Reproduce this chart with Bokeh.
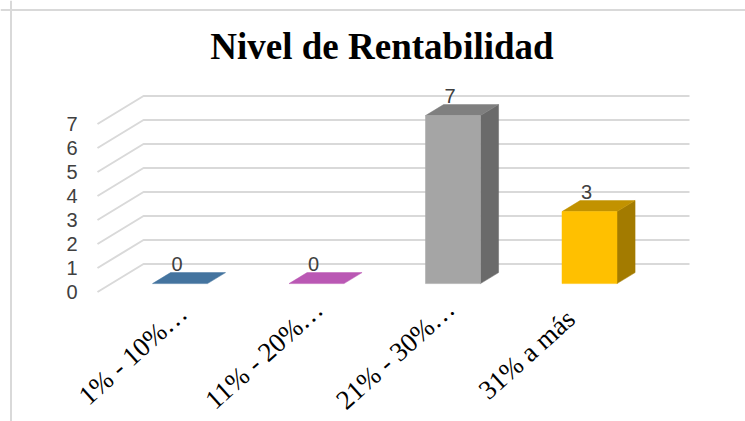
import math
from bokeh.plotting import figure
from bokeh.models import Range1d, Span
from bokeh.embed import file_html
from bokeh.resources import INLINE
from bokeh.core.properties import value

# ---------------- data ----------------
title_text = "Nivel de Rentabilidad"
categories = ["1% - 10%…", "11% - 20%…", "21% - 30%…", "31% a más"]
counts = [0, 0, 7, 3]
y_ticks = [0, 1, 2, 3, 4, 5, 6, 7]
front_colors = ["#4A7AA6", "#BF5DB8", "#A5A5A5", "#FFC000"]
top_colors = ["#44749F", "#BA58B4", "#7F7F7F", "#C29200"]
side_colors = ["#345A7D", "#8E4389", "#6A6A6A", "#A37B00"]

# ---------------- layout (canvas pixels) ----------------
W, H = 745, 421
PX_X = 136.5          # px per category step
PX_Y = 24.0           # px per value unit
X0 = 165.7            # canvas x of category 0 (floor front)
Y0 = 291.5            # canvas y of value 0 (floor front)


def xd(cx):
    return (cx - X0) / PX_X


def yd(cy):
    return (Y0 - cy) / PX_Y


DX = 46 / PX_X        # depth of floor in x units
DY = 28 / PX_Y        # depth of floor in y units
TF, TB = 0.30, 0.693  # bar front / back depth fraction
BW = 55 / PX_X        # bar width
WALL_X = xd(97)
END_X = xd(689)
LAB_STEP = 131.3 / PX_X

p = figure(width=W, height=H, x_range=Range1d(xd(0), xd(W)),
           y_range=Range1d(yd(H), yd(0)),
           output_backend="svg", toolbar_location=None, min_border=0,
           x_axis_location=None, y_axis_location=None)
p.grid.visible = False
p.outline_line_color = None
p.background_fill_color = "white"
p.border_fill_color = "white"

# chart border (top / left)
p.add_layout(Span(location=yd(9.5), dimension="width", line_color="#D9D9D9", line_width=2))
p.add_layout(Span(location=xd(10.5), dimension="height", line_color="#D9D9D9", line_width=2))

# gridlines: left wall diagonal + back wall horizontal
gx = [[WALL_X, WALL_X + DX, END_X] for v in y_ticks]
gy = [[v, v + DY, v + DY] for v in y_ticks]
p.multi_line(gx, gy, line_color="#D9D9D9", line_width=2)

# y tick labels
p.text(x=[WALL_X] * len(y_ticks), y=y_ticks, text=[str(v) for v in y_ticks],
       text_align="right", text_baseline="middle", x_offset=-20,
       text_font=value("Liberation Sans"), text_font_size="20px", text_color="#404040")

# 3D bars
xs, ys, cols = [], [], []
for i, h in enumerate(counts):
    l, r = i - BW / 2, i + BW / 2
    fx, fy = TF * DX, TF * DY
    bx, by = TB * DX, TB * DY
    if h > 0:
        xs.append([r + fx, r + bx, r + bx, r + fx])
        ys.append([fy, by, h + by, h + fy])
        cols.append(side_colors[i])
    xs.append([l + fx, r + fx, r + bx, l + bx])
    ys.append([h + fy, h + fy, h + by, h + by])
    cols.append(top_colors[i])
    if h > 0:
        xs.append([l + fx, r + fx, r + fx, l + fx])
        ys.append([fy, fy, h + fy, h + fy])
        cols.append(front_colors[i])
p.patches(xs, ys, fill_color=cols, line_color=cols, line_width=0.5)

# data labels
p.text(x=[i + TF * DX for i in range(len(counts))], y=[h + TF * DY for h in counts],
       text=[str(h) for h in counts], text_align="center", text_baseline="middle",
       x_offset=-3, y_offset=-20,
       text_font=value("Liberation Sans"), text_font_size="20px", text_color="#404040")

# category labels (rotated)
lab_x = [xd(132.3) + LAB_STEP * i for i in range(len(categories))]
p.text(x=lab_x, y=[yd(354)] * len(categories), text=categories, angle=math.radians(42),
       text_align="center", text_baseline="middle",
       text_font=value("Liberation Serif"), text_font_size="27px", text_color="#000000")

# title
p.text(x=[xd(381.5)], y=[yd(46)], text=[title_text], text_align="center",
       text_baseline="middle", text_font=value("Liberation Serif"), text_font_style="bold",
       text_font_size="37px", text_color="#000000")

open("out.html", "w").write(file_html(p, INLINE))
